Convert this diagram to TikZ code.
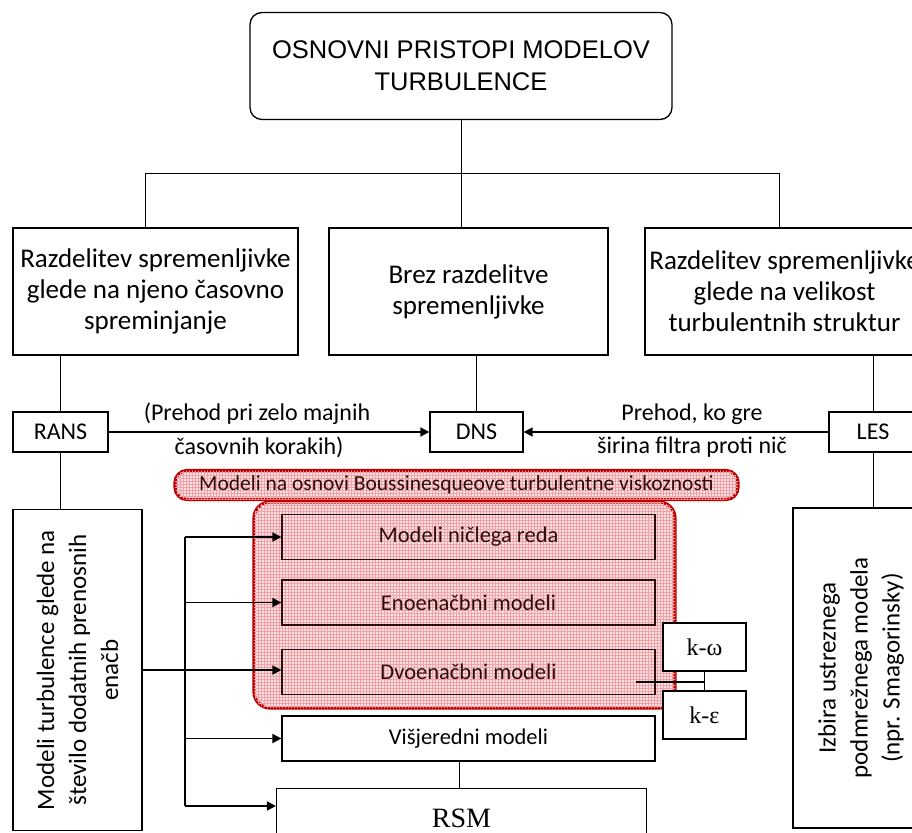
\documentclass[tikz,border=0pt]{standalone}
\usepackage{fontspec}
\setmainfont{Carlito}
\newfontfamily\arialf{Liberation Sans}
\newfontfamily\timesf{Liberation Serif}
\usetikzlibrary{arrows.meta,patterns}
\definecolor{redb}{RGB}{192,0,0}
\definecolor{pinkbg}{RGB}{252,226,228}
\definecolor{pinkln}{RGB}{240,162,167}
\definecolor{darkt}{RGB}{45,12,12}
\begin{document}
\begin{tikzpicture}[x=1pt,y=-1pt,
  box/.style={draw=black, line width=1.3pt, fill=white, inner sep=0pt, align=center},
  bigtxt/.style={font=\fontsize{27}{31}\selectfont},
  midtxt/.style={font=\fontsize{24}{28}\selectfont},
  vtxt/.style={font=\fontsize{25}{32}\selectfont},
  hatch/.style={fill=pinkbg, postaction={pattern=grid, pattern color=pinkln}},
  redbox/.style={draw=redb, line width=3.2pt, hatch},
  inbox/.style={draw=darkt, line width=1.2pt, inner sep=0pt, text=darkt,
     minimum width=373pt, minimum height=45pt, font=\fontsize{22.5}{26}\selectfont},
  ln/.style={line width=1pt},
  arr/.style={line width=1.7pt, -{Triangle[length=9pt,width=9pt]}},
]
\useasboundingbox (0,0) rectangle (912,832);
\fill[white] (0,0) rectangle (912,832);

% top
\node[box, rounded corners=12pt, minimum width=422pt, minimum height=107pt,
  font=\arialf\fontsize{25.5}{32}\selectfont] (top) at (461,66)
  {OSNOVNI PRISTOPI MODELOV\\TURBULENCE};

% second row
\node[box, bigtxt, minimum width=285pt, minimum height=127pt] (b1) at (155.5,291.5)
  {Razdelitev spremenljivke\\glede na njeno časovno\\spreminjanje};
\node[box, bigtxt, minimum width=279pt, minimum height=127pt] (b2) at (468.5,291.5)
  {Brez razdelitve\\spremenljivke};
\node[box, bigtxt, minimum width=279pt, minimum height=127pt] (b3) at (784.5,291.5)
  {Razdelitev spremenljivke\\glede na velikost\\turbulentnih struktur};

\coordinate (h1) at (145,173);
\coordinate (h3) at (779,173);
\draw[ln] (top.south) -- (top.south |- h1);
\draw[ln] (h1) -- (h3);
\draw[ln] (h1) -- (h1 |- b1.north);
\draw[ln] (top.south |- h1) -- (top.south |- b2.north);
\draw[ln] (h3) -- (h3 |- b3.north);

% third row
\node[box, midtxt, minimum width=95pt, minimum height=40pt] (rans) at (60.5,432) {RANS};
\node[box, midtxt, minimum width=93pt, minimum height=40pt] (dns) at (476.5,432) {DNS};
\node[box, midtxt, minimum width=88pt, minimum height=40pt] (les) at (873,432) {LES};

\draw[ln] (rans.north) -- (rans.north |- b1.south);
\draw[ln] (dns.north) -- (dns.north |- b2.south);
\draw[ln] (les.north) -- (les.north |- b3.south);

\draw[arr] (rans.east) -- (dns.west);
\draw[arr] (les.west) -- (dns.east);
\node[midtxt, inner sep=0pt] (l1) at (257,414) {(Prehod pri zelo majnih};
\node[midtxt, inner sep=0pt] (l2) at (259,447) {časovnih korakih)};
\node[midtxt, inner sep=0pt] (l3) at (692,414) {Prehod, ko gre};
\node[midtxt, inner sep=0pt] (l4) at (692,447) {širina filtra proti nič};

% tall side boxes
\node[box, minimum width=129pt, minimum height=321pt] (lbox) at (77.5,670) {};
\node[vtxt, rotate=90, align=center, inner sep=0pt] (ltxt) at (lbox.center)
  {Modeli turbulence glede na\\število dodatnih prenosnih\\enačb};
\node[box, minimum width=136pt, minimum height=320pt] (rbox) at (861,668) {};
\node[vtxt, rotate=90, align=center, inner sep=0pt] (rtxt) at (rbox.center)
  {Izbira ustreznega\\podmrežnega modela\\(npr. Smagorinsky)};
\draw[ln] (rans.south) -- (rans.south |- lbox.north);
\draw[ln] (les.south) -- (les.south |- rbox.north);

% Boussinesq group
\node[redbox, rounded corners=16pt, minimum width=421pt, minimum height=206pt] (grp) at (464.5,605) {};
\node[redbox, rounded corners=12pt, minimum width=563pt, minimum height=29pt, inner sep=0pt,
  text=darkt, font=\fontsize{21.5}{24}\selectfont] (bous) at (456.5,485)
  {Modeli na osnovi Boussinesqueove turbulentne viskoznosti};

\node[inbox] (m1) at (468.5,537) {Modeli ničlega reda};
\node[inbox] (m2) at (468.5,602.5) {Enoenačbni modeli};
\node[inbox] (m3) at (468.5,672) {Dvoenačbni modeli};
\node[box, minimum width=373pt, minimum height=45pt, line width=1.2pt,
  font=\fontsize{22.5}{26}\selectfont] (vis) at (468.5,738.5) {Višjeredni modeli};
\node[box, minimum width=370pt, minimum height=60pt, line width=1.2pt, anchor=north,
  font=\timesf\fontsize{28}{32}\selectfont] (rsm) at (461.5,788) {\raisebox{-6pt}{RSM}};

% k boxes
\node[box, minimum width=83pt, minimum height=48pt, line width=1.3pt,
  font=\timesf\fontsize{24}{28}\selectfont] (kw) at (704.5,647) {k-ω};
\node[box, minimum width=83pt, minimum height=48pt, line width=1.3pt,
  font=\timesf\fontsize{24}{28}\selectfont] (ke) at (704.5,715) {k-ε};
\coordinate (ks) at (636,682);
\draw[line width=1.4pt] (ks) -- (ks -| kw.south);
\draw[line width=1.4pt] (kw.south) -- (ke.north);

\draw[ln] ([xshift=-2.5pt]rsm.north) -- ([xshift=-2.5pt]rsm.north |- vis.south);

% trunk
\coordinate (t1) at (185,537);
\coordinate (t5) at (185,806);
\draw[line width=1.7pt] (t1) -- (t5);
\draw[arr] (t1) -- (m1.west);
\draw[arr] (m2.west -| t1) -- (m2.west);
\draw[arr] (lbox.east |- 0,670) -- (m3.west |- 0,670);
\draw[arr] (vis.west -| t1) -- (vis.west);
\draw[arr] (t5) -- (rsm.west |- t5);
\end{tikzpicture}
\end{document}
